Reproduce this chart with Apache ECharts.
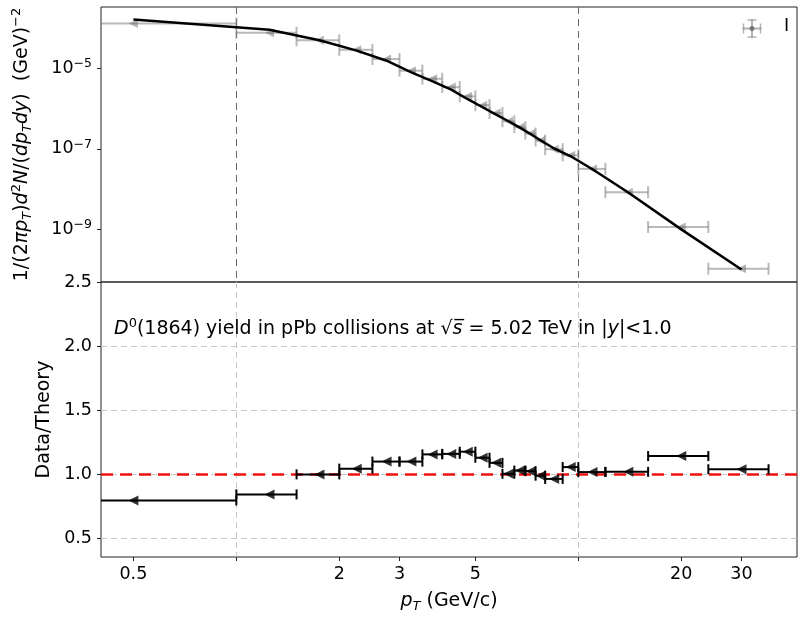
<!DOCTYPE html>
<html><head><meta charset="utf-8">
<script src="https://cdn.jsdelivr.net/npm/echarts@6/dist/echarts.min.js"></script>
<style>html,body{margin:0;padding:0;background:#fff}#c{width:799px;height:618px}</style>
</head><body><div id="c"></div>
<script>
// ---- data ----
const pt      = [0.5, 1.25, 1.75, 2.25, 2.75, 3.25, 3.75, 4.25, 4.75, 5.25, 5.75, 6.25, 6.75, 7.25, 7.75, 8.5, 9.5, 11, 14, 20, 30];
const ptLow   = [0, 1, 1.5, 2, 2.5, 3, 3.5, 4, 4.5, 5, 5.5, 6, 6.5, 7, 7.5, 8, 9, 10, 12, 16, 24];
const ptHigh  = [1, 1.5, 2, 2.5, 3, 3.5, 4, 4.5, 5, 5.5, 6, 6.5, 7, 7.5, 8, 9, 10, 12, 16, 24, 36];
const yieldData = [1.35e-4, 7.9e-5, 5.1e-5, 2.95e-5, 1.74e-5, 8.9e-6, 5.6e-6, 3.47e-6, 2.04e-6, 1.23e-6, 7.8e-7, 4.9e-7, 3.47e-7, 2.4e-7, 1.62e-7, 9.8e-8, 6.9e-8, 3.16e-8, 8.3e-9, 1.12e-9, 1.02e-10];
const theory    = [1.69e-4, 9.36e-5, 5.1e-5, 2.82e-5, 1.58e-5, 8.1e-6, 4.84e-6, 2.99e-6, 1.73e-6, 1.09e-6, 7.16e-7, 4.88e-7, 3.37e-7, 2.34e-7, 1.64e-7, 1.02e-7, 6.53e-8, 3.1e-8, 8.14e-9, 9.8e-10, 9.8e-11];
const ratio     = [0.797, 0.844, 1.0, 1.045, 1.10, 1.10, 1.156, 1.16, 1.177, 1.13, 1.09, 1.005, 1.03, 1.025, 0.99, 0.965, 1.057, 1.018, 1.02, 1.143, 1.04];

const xTickLabels = [0.5, 2, 3, 5, 20, 30];
const xTickMarks  = [0.5, 1, 2, 3, 5, 10, 20, 30];
const yTopTicks   = [1e-5, 1e-7, 1e-9];
const ratioTicks  = [0.5, 1.0, 1.5, 2.0, 2.5];
const ratioGrid   = [0.5, 1.0, 1.5, 2.0];
const refLine     = [1.0];

// ---- axis ranges ----
const X_MIN = 0.402, X_MAX = 43.6;
const Y_MIN = 4.76e-11, Y_MAX = 3.46e-4;
const R_MIN = 0.356, R_MAX = 2.5;

const FONT = 'DejaVu Sans';
const TICK_FS = 17.5, TITLE_FS = 19;

function errorBars(xAxisIndex, yAxisIndex, values, color, capHalf, width, z) {
  return {
    type: 'custom', xAxisIndex, yAxisIndex, clip: true, z, silent: true,
    dimensions: ['x', 'y', 'lo', 'hi'],
    encode: { x: 0, y: 1 },
    data: pt.map((p, i) => [p, values[i], ptLow[i], ptHigh[i]]),
    renderItem(params, api) {
      const y = api.value(1), lo = api.value(2), hi = api.value(3);
      const a = api.coord([Math.max(lo, X_MIN), y]);
      const b = api.coord([hi, y]);
      const st = { stroke: color, lineWidth: width };
      const ch = [{ type: 'line', shape: { x1: a[0], y1: a[1], x2: b[0], y2: b[1] }, style: st }];
      if (lo >= X_MIN) ch.push({ type: 'line', shape: { x1: a[0], y1: a[1] - capHalf, x2: a[0], y2: a[1] + capHalf }, style: st });
      ch.push({ type: 'line', shape: { x1: b[0], y1: b[1] - capHalf, x2: b[0], y2: b[1] + capHalf }, style: st });
      return { type: 'group', children: ch };
    }
  };
}

const richBase = {
  n:   { fontFamily: FONT, fontSize: TITLE_FS, fontWeight: 'normal', color: '#000', lineHeight: 24 },
  i:   { fontFamily: FONT, fontSize: TITLE_FS, fontWeight: 'normal', color: '#000', fontStyle: 'italic', lineHeight: 24 },
  sup: { fontFamily: FONT, fontSize: 13, fontWeight: 'normal', color: '#000', lineHeight: 13, verticalAlign: 'top' },
  sub: { fontFamily: FONT, fontSize: 13, fontWeight: 'normal', color: '#000', fontStyle: 'italic', lineHeight: 13, verticalAlign: 'bottom' }
};

const gridStyle = { show: true, borderColor: '#222', borderWidth: 1, backgroundColor: 'transparent' };

const option = {
  animation: false,
  backgroundColor: '#fff',
  grid: [
    Object.assign({ left: 101, right: 2, top: 7, height: 275 }, gridStyle),
    Object.assign({ left: 101, right: 2, top: 282, height: 275 }, gridStyle)
  ],
  title: {
    left: 114, top: 317, padding: 0,
    text: '{i|D}{sup|0}{n|(1864) yield in pPb collisions at √}{i|s\u0305}{n| = 5.02 TeV in |}{i|y}{n||<1.0}',
    textStyle: { fontWeight: 'normal', fontFamily: FONT, fontSize: TITLE_FS, rich: richBase }
  },
  xAxis: [
    { type: 'log', logBase: 10, gridIndex: 0, min: X_MIN, max: X_MAX,
      axisLine: { show: false, onZero: false }, axisTick: { show: false }, axisLabel: { show: false },
      splitLine: { show: true, showMinLine: false, showMaxLine: false, lineStyle: { color: '#666', type: [7, 5], width: 1 } } },
    { type: 'log', logBase: 10, gridIndex: 1, min: X_MIN, max: X_MAX,
      axisLine: { show: false, onZero: false }, axisTick: { show: false }, axisLabel: { show: false },
      splitLine: { show: true, showMinLine: false, showMaxLine: false, lineStyle: { color: '#c4c4c4', type: [6, 4], width: 1 } } },
    { type: 'value', gridIndex: 1, position: 'bottom', min: Math.log10(X_MIN), max: Math.log10(X_MAX),
      axisLine: { show: false, onZero: false }, splitLine: { show: false },
      axisTick: { show: true, customValues: xTickMarks.map(Math.log10), length: 4, lineStyle: { color: '#222', width: 1 } },
      axisLabel: { customValues: xTickLabels.map(Math.log10), margin: 8, fontFamily: FONT, fontSize: TICK_FS, color: '#000',
        formatter: v => String(Number(Math.pow(10, v).toPrecision(2))) },
      name: '{i|p}{sub|T}{n| (GeV/c)}', nameLocation: 'middle', nameGap: 32,
      nameTextStyle: { rich: richBase } }
  ],
  yAxis: [
    { type: 'log', logBase: 10, gridIndex: 0, min: Y_MIN, max: Y_MAX,
      axisLine: { show: false, onZero: false }, axisTick: { show: false }, axisLabel: { show: false }, splitLine: { show: false } },
    { type: 'value', gridIndex: 0, position: 'left', min: Math.log10(Y_MIN), max: Math.log10(Y_MAX),
      axisLine: { show: false, onZero: false }, splitLine: { show: false },
      axisTick: { show: true, customValues: yTopTicks.map(v => Math.round(Math.log10(v))), length: 4, lineStyle: { color: '#222' } },
      axisLabel: { customValues: yTopTicks.map(v => Math.round(Math.log10(v))), margin: 9,
        formatter: v => '{b|10}{s|\u2212' + Math.abs(Math.round(v)) + '}',
        rich: { b: { fontFamily: FONT, fontSize: TICK_FS, color: '#000', lineHeight: 22 },
                s: { fontFamily: FONT, fontSize: 12.5, color: '#000', lineHeight: 12, verticalAlign: 'top' } } },
      name: '{n|1/(2}{i|πp}{sub|T}{n|)}{i|d}{sup|2}{i|N}{n|/(}{i|dp}{sub|T}{i|dy}{n|)  (GeV)}{sup|\u22122}',
      nameLocation: 'middle', nameRotate: 90, nameGap: 67, nameTextStyle: { rich: richBase } },
    { type: 'value', gridIndex: 1, position: 'left', min: R_MIN, max: R_MAX,
      axisLine: { show: false, onZero: false }, splitLine: { show: false },
      axisTick: { show: true, customValues: ratioTicks, length: 4, lineStyle: { color: '#222' } },
      axisLabel: { customValues: ratioTicks, margin: 9, fontFamily: FONT, fontSize: TICK_FS, color: '#000',
        formatter: v => v.toFixed(1) },
      name: 'Data/Theory', nameLocation: 'middle', nameRotate: 90, nameGap: 47,
      nameTextStyle: { fontFamily: FONT, fontSize: TITLE_FS, color: '#000' } }
  ],
  series: [
    // top-panel gridlines (horizontal)
    { type: 'line', xAxisIndex: 0, yAxisIndex: 0, data: [], z: 1,
      markLine: { silent: true, z: 1, symbol: ['none', 'none'], label: { show: false },
        lineStyle: { color: '#666', type: [7, 5], width: 1 },
        data: yTopTicks.map(v => ({ yAxis: v })) } },
    errorBars(0, 0, yieldData, 'rgba(128,128,128,0.55)', 6, 2, 2),
    { type: 'scatter', xAxisIndex: 0, yAxisIndex: 0, z: 3, silent: true,
      symbol: 'triangle', symbolRotate: 90, symbolSize: 9,
      itemStyle: { color: 'rgba(100,100,100,0.6)' },
      data: pt.map((p, i) => [p, yieldData[i]]) },
    { type: 'line', xAxisIndex: 0, yAxisIndex: 0, z: 4, silent: true,
      showSymbol: false, lineStyle: { color: '#000', width: 2.5 },
      data: pt.map((p, i) => [p, theory[i]]) },
    // bottom-panel gridlines and reference line
    { type: 'line', xAxisIndex: 1, yAxisIndex: 2, data: [], z: 1,
      markLine: { silent: true, z: 1, symbol: ['none', 'none'], label: { show: false },
        data: ratioGrid.map(v => ({ yAxis: v, lineStyle: { color: '#c4c4c4', type: [6, 4], width: 1 } }))
          .concat(refLine.map(v => ({ yAxis: v, lineStyle: { color: '#f01010', type: [12, 7], width: 2.5 } }))) } },
    errorBars(1, 2, ratio, '#000', 5, 2, 2),
    { type: 'scatter', xAxisIndex: 1, yAxisIndex: 2, z: 3, silent: true,
      symbol: 'triangle', symbolRotate: 90, symbolSize: 10,
      itemStyle: { color: '#000' },
      data: pt.map((p, i) => [p, ratio[i]]) }
  ],
  graphic: [
    { type: 'group', left: 740, top: 17, silent: true, children: [
      { type: 'line', shape: { x1: 0, y1: 9, x2: 19, y2: 9 }, style: { stroke: 'rgba(128,128,128,0.6)', lineWidth: 2 } },
      { type: 'line', shape: { x1: 1, y1: 4, x2: 1, y2: 14 }, style: { stroke: 'rgba(128,128,128,0.6)', lineWidth: 1.5 } },
      { type: 'line', shape: { x1: 18, y1: 4, x2: 18, y2: 14 }, style: { stroke: 'rgba(128,128,128,0.6)', lineWidth: 1.5 } },
      { type: 'line', shape: { x1: 9.5, y1: 0, x2: 9.5, y2: 18 }, style: { stroke: 'rgba(128,128,128,0.6)', lineWidth: 2 } },
      { type: 'line', shape: { x1: 5, y1: 0.5, x2: 14, y2: 0.5 }, style: { stroke: 'rgba(128,128,128,0.6)', lineWidth: 1.5 } },
      { type: 'line', shape: { x1: 5, y1: 17.5, x2: 14, y2: 17.5 }, style: { stroke: 'rgba(128,128,128,0.6)', lineWidth: 1.5 } },
      { type: 'circle', shape: { cx: 9.5, cy: 9, r: 2.5 }, style: { fill: 'rgba(90,90,90,0.7)' } }
    ] },
    { type: 'text', left: 784, top: 17, silent: true,
      style: { text: 'I', fontFamily: FONT, fontSize: 17.5, fill: '#000' } }
  ]
};

const chart = echarts.init(document.getElementById('c'), null, { renderer: 'canvas' });
chart.setOption(option);
</script>
</body></html>
